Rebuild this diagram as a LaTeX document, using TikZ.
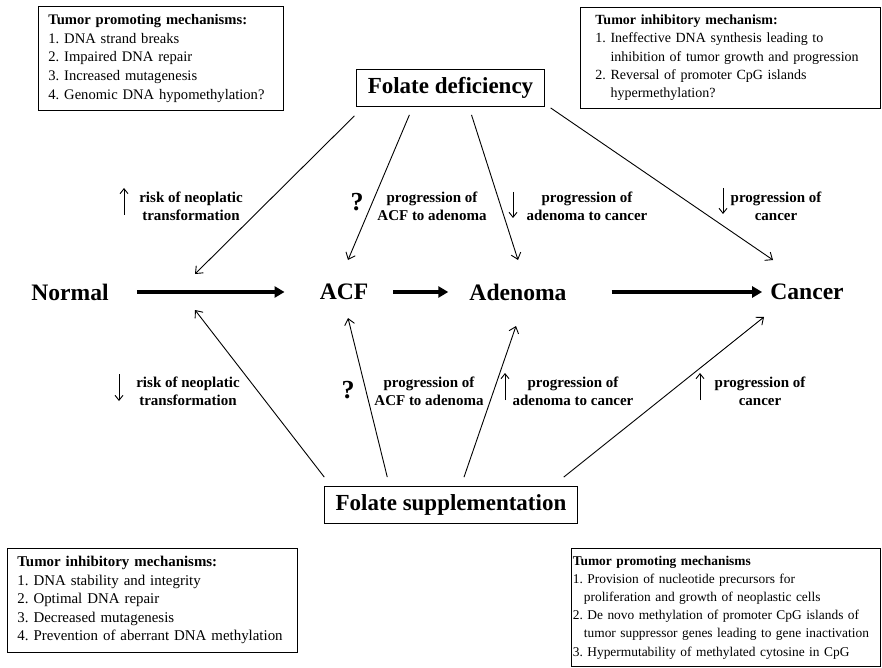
\documentclass[tikz,border=0pt]{standalone}
\usepackage{fontspec}
\setmainfont{Liberation Serif}
\usetikzlibrary{calc,arrows.meta}
\frenchspacing

\begin{document}
\begin{tikzpicture}[x=1pt, y=-1pt,
    stage/.style={inner sep=0pt, font=\fontsize{23.6}{28}\selectfont\bfseries},
    folate/.style={draw, line width=0.8pt, inner xsep=11pt, minimum height=37pt, font=\fontsize{23}{27}\selectfont\bfseries},
    mechbox/.style={draw, line width=0.8pt, align=left, anchor=north west, inner ysep=0pt},
    effect/.style={align=center, inner sep=0pt, font=\fontsize{15}{18}\selectfont\bfseries},
    unknown/.style={inner sep=0pt, font=\fontsize{26}{30}\selectfont\bfseries},
    stagearrow/.style={line width=3.5pt, -{Triangle[length=10pt,width=11pt]}},
    thinarrow/.style={line width=0.9pt, -{Straight Barb[length=6pt,width=10pt]}},
    trend/.style={line width=0.9pt, -{Straight Barb[length=5pt,width=8pt]}}]
    \pgfmathsetmacro{\rowy}{292}
    \useasboundingbox (0,0) rectangle (882,668);

    % mechanism boxes
    \node[mechbox, text width=225pt, inner xsep=10pt, minimum height=104pt, font=\fontsize{14.6}{18.7}\selectfont] (tlbox) at (38,6)
        {\textbf{Tumor promoting mechanisms:}\\1. DNA strand breaks\\2. Impaired DNA repair\\3. Increased mutagenesis\\4. Genomic DNA hypomethylation?};
    \node[mechbox, text width=270pt, inner xsep=15pt, minimum height=101pt, font=\fontsize{14}{18.3}\selectfont] (trbox) at (580,7)
        {\textbf{Tumor inhibitory mechanism:}\\1. Ineffective DNA synthesis leading to\\\hphantom{1. }inhibition of tumor growth and progression\\2. Reversal of promoter CpG islands\\\hphantom{2. }hypermethylation?};
    \node[mechbox, text width=270pt, inner xsep=10pt, minimum height=104pt, font=\fontsize{14.9}{18.5}\selectfont] (blbox) at (7,548)
        {\textbf{Tumor inhibitory mechanisms:}\\1. DNA stability and integrity\\2. Optimal DNA repair\\3. Decreased mutagenesis\\4. Prevention of aberrant DNA methylation};
    \node[mechbox, text width=306pt, inner xsep=1.5pt, minimum height=118pt, font=\fontsize{13.4}{18.2}\selectfont] (brbox) at (571,548)
        {\textbf{Tumor promoting mechanisms}\\1. Provision of nucleotide precursors for\\\hspace*{11pt}proliferation and growth of neoplastic cells\\2. De novo methylation of promoter CpG islands of\\\hspace*{11pt}tumor suppressor genes leading to gene inactivation\\3. Hypermutability of methylated cytosine in CpG};

    % folate status
    \node[folate] (fd) at (450.5,88) {Folate deficiency};
    \node[folate] (fs) at (451,505) {Folate supplementation};

    % stages
    \node[stage] (normal) at (70,\rowy) {Normal};
    \node[stage] (acf) at (344,\rowy) {ACF};
    \node[stage] (adenoma) at (518,\rowy) {Adenoma};
    \node[stage] (cancer) at (807,\rowy) {Cancer};

    \draw[stagearrow, shorten <=28pt, shorten >=35pt] (normal.east) -- (acf.west);
    \draw[stagearrow, shorten <=25pt, shorten >=21pt] (acf.east) -- (adenoma.west);
    \draw[stagearrow, shorten <=45pt, shorten >=8pt] (adenoma.east) -- (cancer.west);

    % arrow ends
    \coordinate (fd1) at ($(fd.south west)+(-2,9)$);
    \coordinate (fd2) at ($(fd.south west)+(53,8)$);
    \coordinate (fd3) at ($(fd.south)+(21,8)$);
    \coordinate (fd4) at ($(fd.south east)+(6,1)$);
    \coordinate (fs1) at ($(fs.north west)+(0,-9)$);
    \coordinate (fs2) at ($(fs.north west)+(63,-9)$);
    \coordinate (fs3) at ($(fs.north)+(13,-9)$);
    \coordinate (fs4) at ($(fs.north east)+(-14,-9)$);
    \coordinate (dnormal) at (195,274);
    \coordinate (dacf) at (348,260);
    \coordinate (dadenoma) at (518,260);
    \coordinate (dcancer) at (773,260);
    \coordinate (snormal) at (195,310);
    \coordinate (sacf) at (348,318);
    \coordinate (sadenoma) at (516,326);
    \coordinate (scancer) at (764,317);

    \draw[thinarrow] (fd1) -- (dnormal);
    \draw[thinarrow] (fd2) -- (dacf);
    \draw[thinarrow] (fd3) -- (dadenoma);
    \draw[thinarrow] (fd4) -- (dcancer);
    \draw[thinarrow] (fs1) -- (snormal);
    \draw[thinarrow] (fs2) -- (sacf);
    \draw[thinarrow] (fs3) -- (sadenoma);
    \draw[thinarrow] (fs4) -- (scancer);

    % effects of deficiency
    \node[effect] (drisk) at (191,206) {risk of neoplatic\\transformation};
    \node[unknown] (dq) at (357,202) {?};
    \node[effect] (dacfprog) at (432,206) {progression of\\ACF to adenoma};
    \node[effect] (dadprog) at (587,206) {progression of\\adenoma to cancer};
    \node[effect] (dcaprog) at (776,206) {progression of\\cancer};
    \draw[trend] (124,215) -- (124,188);
    \draw[trend] (513,192) -- (513,218);
    \draw[trend] (723,188) -- (723,214);

    % effects of supplementation
    \node[effect] (srisk) at (188,391) {risk of neoplatic\\transformation};
    \node[unknown] (sq) at (348,390) {?};
    \node[effect] (sacfprog) at (429,391) {progression of\\ACF to adenoma};
    \node[effect] (sadprog) at (573,391) {progression of\\adenoma to cancer};
    \node[effect] (scaprog) at (760,391) {progression of\\cancer};
    \draw[trend] (119,374) -- (119,401);
    \draw[trend] (505,400) -- (505,373);
    \draw[trend] (700,400) -- (700,373);
\end{tikzpicture}
\end{document}
